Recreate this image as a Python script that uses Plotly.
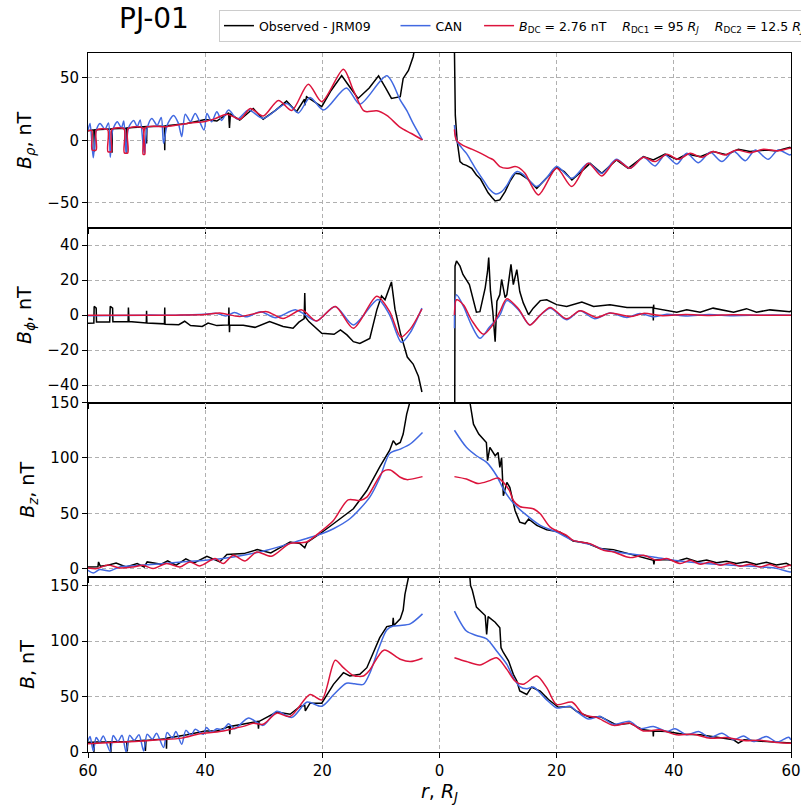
import plotly.graph_objects as go
from plotly.subplots import make_subplots

# ---------------- axis ticks ----------------
X_TICKVALS = [-60, -40, -20, 0, 20, 40, 60]
X_TICKTEXT = ["60", "40", "20", "0", "20", "40", "60"]
P1_YTICKS = [-50, 0, 50]
P2_YTICKS = [-40, -20, 0, 20, 40]
P3_YTICKS = [0, 50, 100, 150]
P4_YTICKS = [0, 50, 100, 150]

# ---------------- Panel 1: B_rho ----------------
BRHO_OBS_R = [-60.0, -59.0, -58.9, -58.8, -57.0, -55.95, -55.9, -55.85, -53.45, -53.4, -53.35, -52.3,
              -50.05, -50.0, -49.95, -46.95, -46.9, -46.85, -43.1, -40.0, -38.0, -36.0, -35.85, -35.7,
              -34.1, -31.8, -30.1, -28.0, -26.1, -24.4, -23.05, -23.0, -22.7, -20.1, -18.5, -16.7,
              -15.5, -13.9, -12.0, -10.4, -9.2, -8.2, -6.7, -6.2, -5.3, -4.5, -4.0, None,
              2.5, 2.55, 2.7, 3.0, 3.3, 3.5, 4.0, 4.6, 5.5, 6.3, 7.0, 8.0, 8.3, 9.0, 9.5, 10.3, 11.2,
              12.0, 12.9, 13.8, 14.9, 16.6, 18.3, 20.0, 21.3, 22.6, 24.2, 25.7, 27.7, 30.2, 32.2, 34.8,
              36.5, 38.5, 40.5, 42.2, 44.5, 46.7, 49.0, 51.0, 53.0, 55.8, 57.5, 59.8, 60.0]
BRHO_OBS = [7.7, 8.5, -9, 8.5, 9, 9.2, -10, 9.3, 9.8, -10, 10, 10.4,
            11, -2.4, 11, 11.5, -8, 11.6, 13.6, 16.8, 15.5, 22, 10, 21,
            16.3, 25.6, 17, 24, 31.5, 23, 33, 28, 35, 27, 40, 52,
            44, 33.6, 42, 51.7, 42, 33.6, 35, 49.6, 56, 67, 80, None,
            90, 45, 20, 0, -12, -17, -19, -20, -22.4, -27.7, -31, -40, -42, -46, -48.5, -47.7, -41,
            -33, -26.4, -27, -30.4, -38.4, -30, -21.6, -25, -31.7, -25, -18.4, -26.4, -15.7, -22.4, -13,
            -15.7, -11, -15.2, -11, -13, -9, -11.5, -7.2, -9, -7.8, -8.5, -5.6, -6.5]

BRHO_CAN_R = [-60.0, -59.65, -59.1, -58.6, -57.95, -57.1, -56.5, -56.2, -55.8, -55.0, -54.3, -53.9,
              -53.5, -53.1, -52.2, -51.6, -51.1, -50.4, -49.9, -49.1, -48.2, -47.5, -47.1, -46.5,
              -45.4, -44.6, -44.0, -43.4, -42.5, -41.7, -40.2, -39.7, -38.9, -38.0, -37.2, -36.0,
              -34.5, -32.6, -30.1, -26.1, -24.1, -22.1, -19.8, -15.9, -13.6, -9.0, -6.7, -5.6, -4.5, -2.9,
              None,
              2.55, 2.9, 3.8, 4.6, 5.2, 6.3, 7.5, 8.5, 9.6, 10.5, 11.5, 12.5, 13.3, 14.2, 15.3, 16.6,
              18.3, 20.0, 22.6, 25.4, 27.7, 30.2, 32.5, 34.8, 36.8, 38.5, 40.5, 42.2, 44.2, 46.2, 48.2,
              50.2, 52.2, 53.9, 56.1, 57.8, 59.8, 60.0]
BRHO_CAN = [8, 13.6, -14, 8, 13.6, 9, 14, -13.6, 8, 15, 10, 15.5,
            -10.4, 10, 16, 11, 16.3, -10.4, 10, 17.6, 12, 18.4, -2.4, 12,
            20, 14, 3, 21, 15, 21.6, 8.3, 21.6, 15, 23, 16, 24.3,
            17, 24.3, 17.6, 29.6, 22, 34.4, 24.3, 42, 29, 51.7, 32.3, 24, 13.6, 0.3,
            None,
            12.3, 0, -6, -10.4, -15, -23.7, -32, -39, -43, -41.5, -36, -28, -25, -27, -32, -37,
            -30, -21, -30.4, -18.4, -26.4, -15.2, -22.4, -13.6, -20.5, -11.7, -19, -10.4, -17.9, -9.6, -17,
            -8.8, -16.3, -7.7, -15.2, -7.7, -11.7, -11]

BRHO_DC_R = [-60.0, -59.35, -59.3, -58.6, -58.55, -56.65, -56.6, -56.0, -55.95, -53.85, -53.8, -53.2,
             -53.15, -50.65, -50.6, -50.3, -50.25, -46.6, -43.1, -40.0, -38.5, -36.3, -34.0, -32.3,
             -30.1, -27.5, -25.2, -22.4, -20.1, -16.4, -14.7, -13.0, -12.4, -10.7, -9.0, -6.7, -4.8, -2.9,
             None,
             2.55, 2.9, 4.0, 5.5, 6.9, 8.5, 9.2, 10.3, 11.5, 12.9, 13.6, 14.6, 16.9, 20.0, 22.6, 25.4,
             27.7, 30.2, 32.5, 34.8, 36.8, 38.8, 40.8, 42.8, 44.8, 46.7, 48.7, 50.7, 53.0, 55.3, 57.6,
             59.8, 60.0]
BRHO_DC = [7.7, 7.8, -7.7, -7.7, 8.2, 8.5, -9, -9, 8.8, 9.2, -10, -10,
           9.4, 9.8, -11, -11, 10, 11, 13.6, 15.2, 17, 21, 17, 25.6,
           19.5, 32, 24, 45, 31, 57, 40, 24, 23, 23.7, 20, 10.4, 5.5, 0.3,
           None,
           8.8, 0, -4, -7, -10, -14, -15.7, -21, -22.4, -21, -22, -26.4, -43.7, -22.4, -37, -18.4,
           -28.5, -15.7, -22.4, -13.6, -17, -11.2, -15.2, -10.4, -13.6, -9, -11.7, -7.7, -9.9, -7.2, -8.3,
           -6.4, -6.5]

# ---------------- Panel 2: B_phi ----------------
BPHI_OBS_R = [-60.0, -59.0, -58.95, -58.6, -58.55, -56.3, -56.2, -55.8, -55.75, -53.15, -53.1, -53.0,
              -50.05, -50.0, -49.95, -46.95, -46.9, -46.85, -44.5, -43.5, -42.5, -40.5, -39.5, -38.0,
              -36.0, -35.95, -35.85, -35.8, -33.5, -31.5, -29.0, -26.7, -25.0, -24.0, -23.1, -23.0,
              -22.9, -22.3, -20.1, -18.0, -16.9, -15.8, -14.7, -13.6, -11.9, -10.7, -9.9, -9.3,
              -8.2, -7.6, -6.7, -6.2, -5.5, -4.5, -3.6, -3.0, None,
              2.6, 2.65, 2.9, 3.5, 4.0, 5.1, 6.3, 6.9, 7.8, 8.2, 8.4, 8.7, 9.1, 9.5, 9.8, 10.3, 10.6,
              11.2, 11.5, 12.2, 12.6, 13.2, 13.7, 14.3, 15.2, 16.0, 17.2, 18.3, 20.0, 21.7, 24.3, 26.3,
              29.1, 32.0, 36.45, 36.5, 36.55, 36.6, 38.8, 40.5, 42.2, 44.5, 46.7, 50.2, 52.4, 54.1,
              56.4, 59.8, 60.0]
BPHI_OBS = [-4.6, -4.5, 5, 4, -4, -4, 5, 4, -3.8, -3.7, 4.4, -3.7,
            -4.5, 2.5, -4.5, -5, 4.4, -5.2, -5.5, -3.5, -6, -6.5, -4.5, -6,
            -5.6, 4.4, -9.8, -5.6, -5.8, -7, -3.7, -6.5, -7.5, -4, -2, 12.7,
            -1, -3.7, -10.4, -11, -8.5, -11.3, -15.2, -16.2, -13.3, 3, 11, 8.8,
            19, 3.4, -10, -16, -24, -28, -35, -44, None,
            -55, 28, 31, 28, 23.3, 17.5, 1.7, 2, 15.6, 25, 33, 13.7, 2, -15.2, 8, 11.7, 20.4,
            10, 11.7, 29, 17.5, 26, 13.5, 7, 0.2, 4, 8.3, 8.8, 6, 5, 7.5, 5,
            6, 4.4, 4.4, -3, 6, 4, 2.5, 1.7, 3, 1.7, 4, 1.7, 3.7, 1.7,
            3, 2, 2.5]

BPHI_CAN_R = [-60, -50, -45, -40, -38, -36.5, -35, -33, -30.5, -28, -24.5, -21.0, -17.8, -14.7,
              -10.5, -8.5, -6.5, -5.0, -3.0, None,
              2.55, 2.9, 4.1, 5.5, 6.9, 8.5, 10.3, 11.5, 13.5, 15.4, 17.2, 18.9, 21.7, 24.0, 26.5,
              29.1, 32.0, 34.2, 36.5, 38.8, 42, 46, 50, 55, 60]
BPHI_CAN = [-0.3, 0, 0, 0.5, 1, -0.5, 1.5, -1, 2, -1.5, 3, -3.3, 5, -5.6,
            9, 0, -15.5, -10, 4, None,
            -7.5, 11.7, 5, -6, -13.3, -7, 0, 8.3, 3, -5.6, 0, 4, -2.7, 2.5, -2.1,
            1.2, -1.3, 1, -1, 0.5, -0.5, 0.3, -0.3, 0, 0]

BPHI_DC_R = [-60, -45, -40, -37.5, -34.1, -29.5, -26.7, -23.5, -21.0, -17.8, -14.7, -10.7, -8.5,
             -6.6, -5.0, -3.0, None,
             2.55, 2.9, 4.1, 5.5, 7.5, 9.0, 10.3, 11.5, 13.5, 15.4, 17.2, 18.9, 21.7, 24.0, 26.8,
             29.1, 32.6, 34.8, 38, 42, 46, 50, 55, 60]
BPHI_DC = [0, 0, 0.3, 1.2, -0.8, 2, -2, 3, -3.3, 5, -7.5, 10.8, 2,
           -12.5, -8, 3.5, None,
           0, 8.8, 5.8, -3, -11, -6, 2, 9.4, 3.5, -5.6, 0, 4.4, -2.1, 2.5, -1.3,
           1.2, -0.8, 1, -0.3, 0.3, -0.2, 0.2, 0, 0]

# ---------------- Panel 3: B_z ----------------
BZ_OBS_R = [-60, -58.3, -58.2, -57.9, -56.9, -55.2, -53.5, -51.6, -50.4, -49.9, -47.5, -46.4, -45.0,
            -43.3, -41.9, -39.7, -37.5, -36.3, -33.4, -31.1, -28.8, -25.5, -23.8, -23.0, -22.6, -20.4,
            -18.1, -15.9, -14.7, -12.4, -10.2, -8.5, -7.9, -7.4, -6.7, -6.2, -5.6, -5.0, -4.8, None,
            5.0, 5.2, 5.8, 6.7, 8.0, 8.2, 8.6, 9.5, 10.0, 10.3, 10.6, 10.9, 11.5, 12.0, 12.9, 13.7,
            14.6, 15.2, 16.6, 18.3, 20.6, 22.8, 25.1, 27.4, 29.7, 33.1, 36.5, 36.6, 36.7, 38.8, 40.5,
            42.2, 44.0, 45.6, 47.3, 49.0, 50.7, 52.4, 54.1, 55.8, 57.5, 59.2, 60.0]
BZ_OBS = [1.8, 2, 6.3, 2.4, 3, 5.4, 1.8, 4.8, 1.8, 6.3, 4.2, 7.2, 3.3,
          9, 5.4, 11.4, 6.3, 13, 13.8, 17.4, 14.4, 24.3, 22.8, 19, 24, 31.7,
          40.7, 49.7, 54.2, 70.7, 92, 107, 115.6, 112, 114, 121.6, 139.5, 151.5, 160, None,
          160, 150, 130.5, 121.6, 114, 97.6, 109.6, 102, 105, 91.6, 100, 66, 78, 73.6, 52.7, 42.2,
          40.7, 45, 39.2, 35.3, 33.2, 25.1, 23.4, 18.3, 17.4, 12.3, 7.8, 4, 8, 8.4, 7,
          9.5, 6.5, 8, 5.5, 7, 5, 6.5, 4, 6, 3.5, 5, 3]

BZ_CAN_R = [-60, -59.1, -58.0, -56.3, -54.6, -52, -48, -44, -40.0, -35.2, -29.5, -23.8, -20.1, -18.1,
            -15.3, -11.9, -10.2, -8.5, -6.7, -5.0, -2.9, None,
            2.55, 4.6, 6.3, 8.05, 9.75, 10.9, 12.7, 14.9, 17.2, 20.0, 22.8, 25.7, 28.5, 33.1, 36.5,
            39.9, 44.5, 50.2, 55.8, 57.5, 59.8, 60]
BZ_CAN = [-1.2, -3.6, -0.5, -1.8, 1.8, 2.8, 4.5, 6.3, 7.8, 10.8, 16.8, 25.7, 31.7, 36.2,
          45.2, 64.7, 82, 104, 108, 112.6, 123, None,
          125, 109.6, 102, 96, 84, 72, 58.7, 48.2, 39.2, 33.2, 25.7, 22.2, 16.8, 13.2, 10.8,
          7.8, 5.4, 3.3, 1.5, 0.5, -2.7, -2.5]

BZ_DC_R = [-60, -58.5, -56.6, -54.6, -52.3, -50.6, -48.9, -46.6, -44.3, -42.6, -40.9, -38.3, -36.9,
           -35.2, -33.2, -31.2, -28.7, -25.6, -22.7, -20.4, -18.1, -15.6, -13.6, -12.4, -9.6, -8.4,
           -6.7, -5.6, -2.9, None,
           2.55, 4.6, 6.6, 8.6, 10.0, 11.9, 12.6, 13.7, 16.0, 17.2, 18.9, 21.7, 22.8, 25.7, 28.0,
           29.7, 32.5, 34.8, 37.1, 38.8, 41.1, 42.8, 44.5, 46.2, 47.9, 49.6, 51.3, 53.0, 54.7, 56.4,
           58.1, 59.8, 60]
BZ_DC = [0.9, 0.3, 3.6, 0.9, 1.8, 3.3, 0.3, 4.8, 1.8, 6.3, 2.7, 9.3, 4.8,
         12.3, 7.2, 15.3, 11.4, 22.8, 24.3, 33.2, 43.7, 62.3, 61.7, 64.7, 88, 89.2,
         82.6, 80.5, 83.2, None,
         83.2, 81, 77, 79.6, 82, 71, 61.7, 56.3, 54.2, 49.7, 37.7, 30.2, 25.7, 22.8, 16.8,
         15.3, 10.2, 12.3, 7.8, 9.3, 4.8, 7.8, 4.2, 6.3, 3.3, 5.4, 2.4, 4.2, 1.8, 3.9,
         1.2, 3.3, 3]

# ---------------- Panel 4: |B| ----------------
B_OBS_R = [-60, -59.1, -59.0, -58.9, -56.2, -56.1, -56.0, -53.4, -53.3, -53.2, -50.3, -50.2, -50.1,
           -46.65, -46.6, -46.55, -43.1, -40.0, -38.0, -35.9, -35.8, -35.7, -31.0, -30.9, -30.8,
           -27.8, -25.5, -23.8, -23.0, -22.9, -22.1, -20.1, -18.1, -16.4, -15.3, -13.6, -12.4,
           -10.7, -10.2, -9.0, -8.0, -7.9, -7.8, -6.7, -6.2, -5.9, -5.3, -4.8, None,
           5.0, 5.3, 5.6, 6.3, 7.8, 8.05, 8.3, 9.5, 10.3, 10.5, 10.9, 11.8, 12.6, 13.2, 13.7, 14.9,
           15.7, 17.2, 18.6, 20.3, 22.3, 23.4, 25.7, 27.4, 30.2, 32.5, 34.8, 36.45, 36.5, 36.55,
           38.8, 41.6, 44.5, 47.3, 50.2, 51.0, 52.0, 55.8, 59.8, 60.0]
B_OBS = [8.8, 9, 0, 9, 9.2, 0, 9.3, 9.4, 0.5, 9.5, 10.5, 1, 10.5,
         12, 3, 12.4, 15.5, 19, 19, 23, 16, 23, 27.6, 21, 27.6,
         36, 34, 41, 42, 37, 44, 44, 61, 71.5, 68.5, 70, 76,
         97, 103, 113, 114, 121, 114, 120, 128, 142, 160, 170, None,
         170, 150, 145.8, 130.6, 123, 106, 122, 117, 112, 94, 89.7, 82, 70, 64, 55, 51.8,
         58.5, 54.8, 47.3, 40.3, 41, 36.7, 31.2, 32, 24.5, 26, 20, 19, 14, 19,
         18.5, 16, 15.5, 13, 11, 8, 11, 9.4, 7.9, 8]

B_CAN_R = [-60, -59.65, -59.1, -58.6, -58.0, -57.4, -56.2, -55.7, -54.9, -54.2, -53.5, -52.9, -52.1,
           -51.3, -50.5, -49.9, -49.0, -48.3, -47.1, -46.5, -45.6, -45.0, -44.0, -43.3, -42.4, -41.7,
           -40.3, -39.8, -38.9, -38.0, -37.0, -36.0, -35.0, -32.6, -30.1, -27.8, -25.2, -22.6, -20.1,
           -18.0, -15.9, -14.5, -13.0, -11.9, -10.4, -9.0, -7.9, -6.7, -5.0, -2.9, None,
           2.55, 4.6, 6.3, 8.05, 9.75, 11.5, 12.6, 13.7, 14.9, 16.0, 17.2, 18.3, 20.0, 21.2, 22.3,
           23.4, 25.4, 27.4, 29.7, 32.5, 34.2, 36.5, 38.8, 40.2, 42.2, 44.2, 46.2, 48.2, 50.2, 51.9,
           53.6, 55.8, 57.6, 59.6, 60]
B_CAN = [10, 14, 1, 13, 9, 14.5, 0.5, 14.8, 9.5, 15, 0, 15, 10.5,
         15.5, 1, 16, 11.5, 17, 4, 17.5, 12.5, 18.5, 7, 19.5, 15, 20.5,
         16, 22, 18, 21, 20, 25.5, 21, 30.6, 24, 36.7, 31.2, 45, 41.2,
         52, 62, 61.5, 61, 71, 93, 110, 113.5, 114, 115.5, 124.5, None,
         127, 109, 105, 102, 91, 79, 67, 59, 57, 58.5, 53, 47, 39.7, 40.5, 41.2,
         36.7, 29.7, 32, 25, 27.6, 21, 23, 18.5, 21, 15.5, 18.5, 13, 17, 11, 14.5,
         9.4, 14, 9, 13.3, 11]

B_DC_R = [-60, -56, -52, -48, -44, -40.9, -38.0, -35.2, -32.9, -31.8, -30.1, -27.8, -25.5, -22.1,
          -20.1, -17.8, -16.4, -14.7, -13.0, -11.9, -9.5, -6.7, -5.0, -2.9, None,
          2.55, 4.6, 6.9, 9.75, 11.5, 12.9, 14.3, 16.6, 18.3, 20.0, 22.6, 24.6, 26.8, 29.7, 32.5,
          34.8, 37.6, 40.5, 43.3, 46.2, 49.0, 51.9, 54.7, 57.6, 59.8, 60]
B_DC = [7.5, 8.5, 9.5, 11, 12.5, 16.5, 18, 21, 24, 26, 25, 35, 32, 51.8,
        47, 82.7, 76, 69, 68.5, 74, 91.8, 83.6, 81.5, 84.5, None,
        85, 81.5, 78.5, 85, 74.5, 64, 61, 68.5, 58, 42.7, 45, 33.6, 31.2, 24, 26,
        19, 20, 15.5, 16, 12.4, 13, 10.3, 10.5, 8.5, 7.9, 8]

OBS_COLOR = "#000000"
CAN_COLOR = "#4169e1"
DC_COLOR = "#dc143c"
SP = "&nbsp;"
NAME_OBS = "Observed - JRM09" + SP * 5
NAME_CAN = "CAN" + SP * 3
NAME_DC = ("<i>B</i><sub>DC</sub> = 2.76 nT" + SP * 4 + "<i>R</i><sub>DC1</sub> = 95 <i>R</i><sub><i>J</i></sub>"
           + SP * 4 + "<i>R</i><sub>DC2</sub> = 12.5 <i>R</i><sub><i>J</i></sub>")

PANELS = [
    (1, BRHO_OBS_R, BRHO_OBS, BRHO_CAN_R, BRHO_CAN, BRHO_DC_R, BRHO_DC, [-70, 70], P1_YTICKS,
     "<i>B</i><sub><i>ρ</i></sub>, nT"),
    (2, BPHI_OBS_R, BPHI_OBS, BPHI_CAN_R, BPHI_CAN, BPHI_DC_R, BPHI_DC, [-50, 50], P2_YTICKS,
     "<i>B</i><sub><i>ϕ</i></sub>, nT"),
    (3, BZ_OBS_R, BZ_OBS, BZ_CAN_R, BZ_CAN, BZ_DC_R, BZ_DC, [-7.5, 150], P3_YTICKS,
     "<i>B</i><sub><i>z</i></sub>, nT"),
    (4, B_OBS_R, B_OBS, B_CAN_R, B_CAN, B_DC_R, B_DC, [0, 157.5], P4_YTICKS,
     "<i>B</i>, nT"),
]

FONT = "DejaVu Sans"
FIG_W, FIG_H = 801, 806
fig = make_subplots(rows=4, cols=1, shared_xaxes=True, vertical_spacing=0)

for row, ro, vo, rc, vc, rd, vd, yr, yt, ytitle in PANELS:
    first = row == 1
    fig.add_trace(go.Scatter(x=ro, y=vo, mode="lines", name=NAME_OBS, legendgroup="obs",
                             showlegend=first, line=dict(color=OBS_COLOR, width=1.5)),
                  row=row, col=1)
    fig.add_trace(go.Scatter(x=rc, y=vc, mode="lines", name=NAME_CAN, legendgroup="can",
                             showlegend=first,
                             line=dict(color=CAN_COLOR, width=1.5, shape="spline", smoothing=0.8)),
                  row=row, col=1)
    fig.add_trace(go.Scatter(x=rd, y=vd, mode="lines", name=NAME_DC, legendgroup="dc",
                             showlegend=first,
                             line=dict(color=DC_COLOR, width=1.5, shape="spline", smoothing=0.8)),
                  row=row, col=1)
    fig.update_yaxes(range=yr, tickvals=yt, title=dict(text=ytitle, font=dict(size=19), standoff=10),
                     row=row, col=1)

fig.update_xaxes(range=[-60, 60], tickvals=X_TICKVALS, ticktext=X_TICKTEXT,
                 showgrid=True, gridcolor="#b0b0b0", griddash="4px,3px", gridwidth=1,
                 showline=True, mirror=True, linecolor="black", linewidth=1,
                 ticks="outside", ticklen=5, tickcolor="black", zeroline=False, automargin=False,
                 tickfont=dict(size=15, color="black"))
fig.update_xaxes(title=dict(text="<i>r</i>, <i>R</i><sub><i>J</i></sub>", font=dict(size=19), standoff=2),
                 row=4, col=1)
fig.update_yaxes(showgrid=True, gridcolor="#b0b0b0", griddash="4px,3px", gridwidth=1,
                 showline=True, mirror=True, linecolor="black", linewidth=1,
                 ticks="outside", ticklen=5, tickcolor="black", zeroline=False, automargin=False,
                 tickfont=dict(size=15, color="black"))

fig.update_layout(
    width=FIG_W, height=FIG_H,
    margin=dict(l=88, r=10, t=53, b=54, autoexpand=False),
    paper_bgcolor="white", plot_bgcolor="white",
    font=dict(family=FONT, color="black"),
    title=dict(text="PJ-01", x=119 / FIG_W, xanchor="left", y=0.99, yanchor="top",
               font=dict(size=28, family=FONT)),
    legend=dict(orientation="h", x=0.1863, y=1.0615, xanchor="left", yanchor="top",
                bgcolor="white", bordercolor="#cccccc", borderwidth=1,
                font=dict(size=12.5, family=FONT), itemwidth=30),
)

# remove the default page margin so the figure fills the window exactly
fig.write_html("out.html", config={"displayModeBar": False},
               post_script="document.body.style.margin='0px';document.body.style.overflow='hidden';")
